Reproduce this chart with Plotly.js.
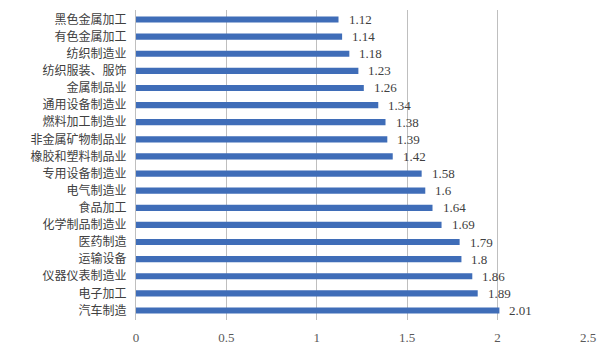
<!DOCTYPE html>
<html><head><meta charset="utf-8">
<script src="https://cdn.plot.ly/plotly-3.0.1.min.js"></script>
<style>html,body{margin:0;padding:0;background:#fff}#c{width:600px;height:356px}</style>
</head><body><div id="c"></div>
<script>
const categories = ["黑色金属加工","有色金属加工","纺织制造业","纺织服装、服饰","金属制品业","通用设备制造业","燃料加工制造业","非金属矿物制品业","橡胶和塑料制品业","专用设备制造业","电气制造业","食品加工","化学制品制造业","医药制造","运输设备","仪器仪表制造业","电子加工","汽车制造"];
const values = [1.12,1.14,1.18,1.23,1.26,1.34,1.38,1.39,1.42,1.58,1.6,1.64,1.69,1.79,1.8,1.86,1.89,2.01];
const xTicks = [0,0.5,1,1.5,2,2.5];

const trace = {
  type:'bar', orientation:'h', x: values, y: categories,
  marker:{color:'#3F6DB8'}, width:0.36, hoverinfo:'none'
};
const annotations = values.map((v,i)=>({
  x:v, y:categories[i], xref:'x', yref:'y', text:String(v), showarrow:false,
  xanchor:'left', xshift:8, font:{family:'Liberation Serif, Times New Roman, serif', size:13, color:'#404040'}
}));
const layout = {
  width:600, height:356, margin:{l:136,r:12,t:10,b:36},
  paper_bgcolor:'#fff', plot_bgcolor:'#fff', showlegend:false,
  xaxis:{range:[0,2.5], tickvals:xTicks, ticktext:xTicks.map(String), showgrid:true, gridcolor:'#bfbfbf', gridwidth:1,
    zeroline:false, showline:false, ticks:'', ticklen:0, ticklabelstandoff:8,
    tickfont:{family:'Liberation Serif, Times New Roman, serif', size:13, color:'#595959'}},
  yaxis:{autorange:'reversed', type:'category', showgrid:false, zeroline:false, showline:true, linecolor:'#bfbfbf', linewidth:1,
    ticks:'', ticklabelstandoff:6,
    tickfont:{family:'Noto Sans CJK SC, sans-serif', size:12, color:'#404040'}},
  annotations: annotations
};
Plotly.newPlot('c',[trace],layout,{staticPlot:true});
</script></body></html>
